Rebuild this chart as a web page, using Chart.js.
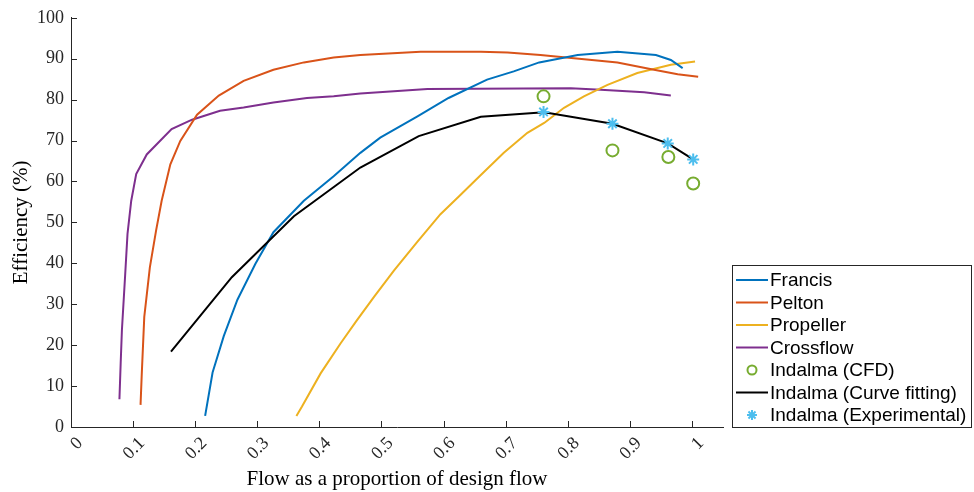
<!DOCTYPE html>
<html>
<head>
<meta charset="utf-8">
<script src="https://cdn.jsdelivr.net/npm/chart.js@4/dist/chart.umd.min.js"></script>
<style>
  html, body { margin: 0; padding: 0; background: #fff; }
  #wrap { width: 974px; height: 492px; }
</style>
</head>
<body>
<div id="wrap"><canvas id="eff" width="974" height="492"></canvas></div>
<script>
// flow as a proportion of design flow / efficiency (%)
var francisX = [0.216, 0.228, 0.246, 0.268, 0.297, 0.326, 0.375, 0.423, 0.466, 0.498, 0.558, 0.608, 0.670, 0.713, 0.754, 0.816, 0.880, 0.942, 0.966, 0.985];
var francisY = [2.7, 13.3, 22.2, 31.1, 39.9, 47.6, 55.3, 61.3, 67.0, 70.7, 75.9, 80.4, 84.9, 86.9, 89.1, 90.9, 91.7, 90.9, 89.7, 87.7];

var peltonX = [0.112, 0.114, 0.118, 0.127, 0.137, 0.146, 0.160, 0.176, 0.203, 0.238, 0.278, 0.326, 0.375, 0.423, 0.466, 0.563, 0.660, 0.703, 0.756, 0.810, 0.880, 0.939, 0.977, 1.010];
var peltonY = [5.4, 13.1, 26.9, 39.0, 48.0, 55.3, 64.2, 69.9, 76.3, 81.0, 84.6, 87.3, 89.1, 90.3, 90.9, 91.7, 91.7, 91.5, 90.9, 90.1, 89.1, 87.3, 86.2, 85.6];

var propellerX = [0.363, 0.372, 0.402, 0.434, 0.460, 0.488, 0.520, 0.557, 0.595, 0.625, 0.660, 0.697, 0.735, 0.762, 0.794, 0.826, 0.864, 0.912, 0.966, 1.005];
var propellerY = [2.7, 5.0, 13.1, 20.4, 26.0, 31.8, 38.2, 45.1, 52.0, 56.4, 61.6, 67.0, 71.9, 74.3, 78.0, 80.8, 83.6, 86.5, 88.5, 89.3];

var crossflowX = [0.078, 0.080, 0.082, 0.087, 0.091, 0.097, 0.105, 0.122, 0.162, 0.195, 0.240, 0.278, 0.326, 0.380, 0.423, 0.466, 0.574, 0.805, 0.853, 0.923, 0.966];
var crossflowY = [6.8, 15.6, 23.7, 36.6, 47.2, 55.3, 61.8, 66.6, 72.8, 75.1, 77.3, 78.1, 79.3, 80.4, 80.8, 81.5, 82.6, 82.8, 82.4, 81.8, 81.0];

var cfdX = [0.761, 0.872, 0.962, 1.002];
var cfdY = [80.8, 67.6, 66.0, 59.5];

var fitX = [0.161, 0.259, 0.359, 0.466, 0.560, 0.660, 0.762, 0.872, 0.961, 1.002];
var fitY = [18.4, 36.6, 51.5, 63.4, 71.1, 75.8, 76.9, 74.1, 69.3, 65.4];

var expX = [0.761, 0.872, 0.961, 1.002];
var expY = [77.0, 74.1, 69.3, 65.4];

var xTicks = [0, 0.1, 0.2, 0.3, 0.4, 0.5, 0.6, 0.7, 0.8, 0.9, 1];
var yTicks = [0, 10, 20, 30, 40, 50, 60, 70, 80, 90, 100];

var axisColor = "#262626";
var serif = "'Liberation Serif', 'Times New Roman', serif";
var sans = "'Liberation Sans', Arial, sans-serif";

function pts(xs, ys) {
    return xs.map(function (x, i) { return { x: x, y: ys[i] }; });
}

function curve(label, xs, ys, color, order) {
    return {
        label: label, data: pts(xs, ys), showLine: true,
        borderColor: color, backgroundColor: color, borderWidth: 2,
        pointRadius: 0, pointHoverRadius: 0, tension: 0, order: order
    };
}

function markers(label, xs, ys, color, style, order) {
    return {
        label: label, data: pts(xs, ys), showLine: false,
        pointStyle: style, pointRadius: 6, pointBorderWidth: 2,
        borderColor: color, backgroundColor: style === "circle" ? "rgba(0,0,0,0)" : color,
        order: order
    };
}

// ticks pointing into the plot area, like the original
var innerTicks = {
    id: "innerTicks",
    afterDraw: function (chart) {
        var ctx = chart.ctx, a = chart.chartArea;
        var xs = chart.scales.x, ys = chart.scales.y;
        ctx.save();
        ctx.strokeStyle = axisColor;
        ctx.lineWidth = 1;
        ctx.beginPath();
        xTicks.forEach(function (v) {
            var px = Math.round(xs.getPixelForValue(v)) + 0.5;
            ctx.moveTo(px, a.bottom);
            ctx.lineTo(px, a.bottom - 6);
        });
        yTicks.forEach(function (v) {
            var py = Math.round(ys.getPixelForValue(v)) + 0.5;
            ctx.moveTo(a.left, py);
            ctx.lineTo(a.left + 6, py);
        });
        ctx.stroke();
        ctx.restore();
    }
};

// boxed legend at the lower right
var boxLegend = {
    id: "boxLegend",
    afterDraw: function (chart) {
        var ctx = chart.ctx;
        var left = 732, top = 265, w = 239, h = 162;
        ctx.save();
        ctx.fillStyle = "#fff";
        ctx.fillRect(left, top, w, h);
        ctx.strokeStyle = axisColor;
        ctx.lineWidth = 1;
        ctx.strokeRect(left + 0.5, top + 0.5, w, h);
        ctx.font = "19px " + sans;
        ctx.textBaseline = "middle";
        chart.data.datasets.forEach(function (ds, i) {
            var y = 280 + i * 22.5;
            var cx = 752;
            ctx.strokeStyle = ds.borderColor;
            ctx.lineWidth = 2;
            ctx.beginPath();
            if (ds.showLine) {
                ctx.moveTo(736, y);
                ctx.lineTo(768, y);
            } else if (ds.pointStyle === "circle") {
                ctx.arc(cx, y, 4.5, 0, Math.PI * 2);
            } else {
                for (var k = 0; k < 4; k++) {
                    var ang = k * Math.PI / 4;
                    ctx.moveTo(cx - 5 * Math.cos(ang), y - 5 * Math.sin(ang));
                    ctx.lineTo(cx + 5 * Math.cos(ang), y + 5 * Math.sin(ang));
                }
            }
            ctx.stroke();
            ctx.fillStyle = "#000";
            ctx.fillText(ds.label, 770, y + 1);
        });
        ctx.restore();
    }
};

new Chart(document.getElementById("eff").getContext("2d"), {
    type: "scatter",
    data: {
        datasets: [
            curve("Francis", francisX, francisY, "#0072BD", 5),
            curve("Pelton", peltonX, peltonY, "#D95319", 6),
            curve("Propeller", propellerX, propellerY, "#EDB120", 7),
            curve("Crossflow", crossflowX, crossflowY, "#7E2F8E", 8),
            markers("Indalma (CFD)", cfdX, cfdY, "#77AC30", "circle", 2),
            curve("Indalma (Curve fitting)", fitX, fitY, "#000000", 1),
            markers("Indalma (Experimental)", expX, expY, "#4DBEEE", "star", 0)
        ]
    },
    options: {
        responsive: false,
        animation: false,
        layout: { padding: { top: 16, right: 251, bottom: 0, left: 0 } },
        plugins: { legend: { display: false }, tooltip: { enabled: false } },
        scales: {
            x: {
                type: "linear", min: 0, max: 1.05,
                afterBuildTicks: function (scale) {
                    scale.ticks = xTicks.map(function (v) { return { value: v }; });
                },
                afterFit: function (scale) { scale.height = 65; },
                grid: { display: true, drawOnChartArea: false, drawTicks: false },
                border: { display: true, color: axisColor, width: 1 },
                ticks: {
                    minRotation: 45, maxRotation: 45, padding: 6, labelOffset: 9,
                    color: axisColor, font: { family: serif, size: 18 },
                    callback: function (v) { return String(v); }
                },
                title: {
                    display: true, text: "Flow as a proportion of design flow",
                    color: "#000", font: { family: serif, size: 21 },
                    padding: { top: 0, bottom: 0 }
                }
            },
            y: {
                type: "linear", min: 0, max: 100,
                afterBuildTicks: function (scale) {
                    scale.ticks = yTicks.map(function (v) { return { value: v }; });
                },
                afterFit: function (scale) { scale.width = 71; },
                grid: { display: true, drawOnChartArea: false, drawTicks: false },
                border: { display: true, color: axisColor, width: 1 },
                ticks: { padding: 7, color: axisColor, font: { family: serif, size: 18 } },
                title: {
                    display: true, text: "Efficiency (%)",
                    color: "#000", font: { family: serif, size: 21 },
                    padding: { top: 9, bottom: 0 }
                }
            }
        }
    },
    plugins: [innerTicks, boxLegend]
});
</script>
</body>
</html>
